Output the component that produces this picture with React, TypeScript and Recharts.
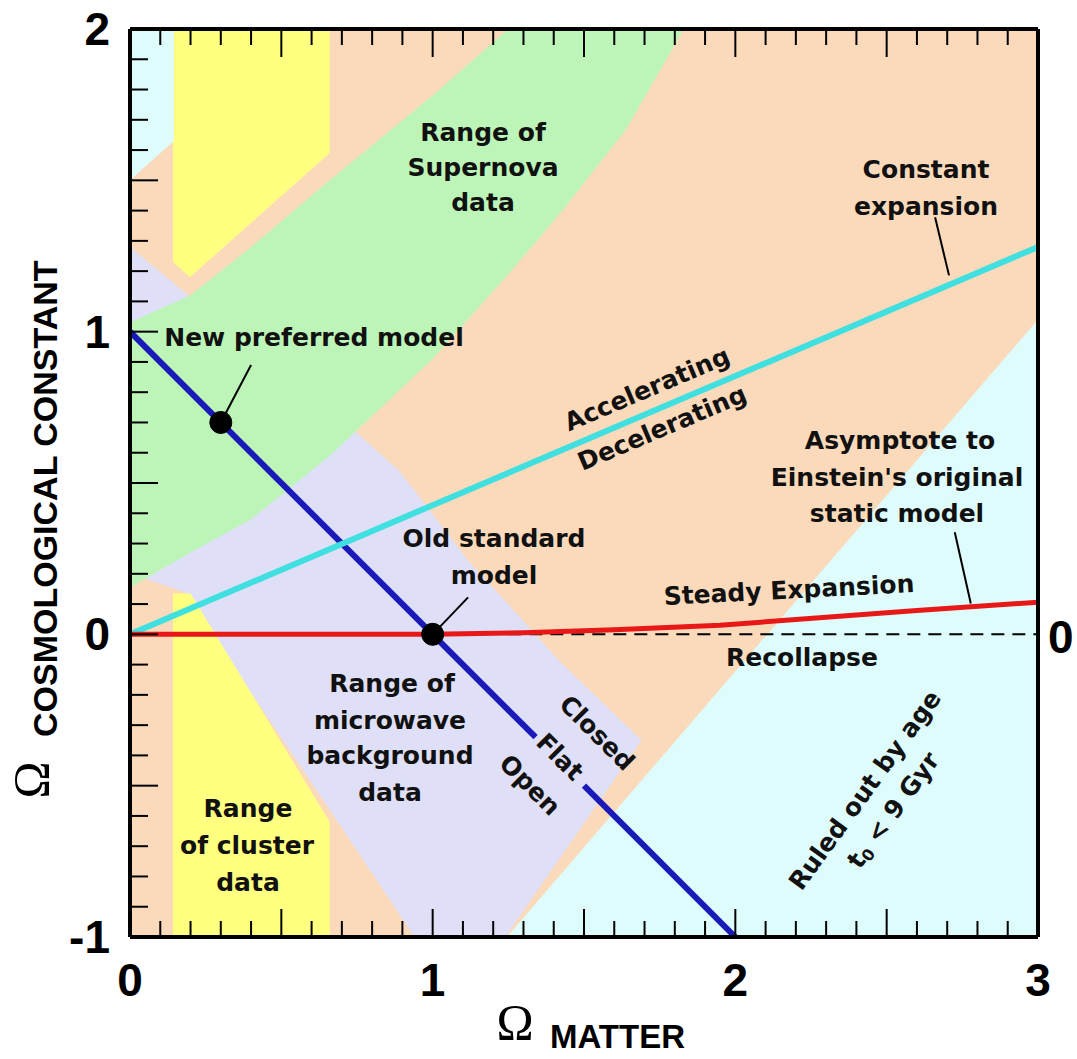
import { Area, CartesianGrid, ComposedChart, Line, XAxis, YAxis } from 'recharts'

// axis ticks (every 0.1, major every 0.5)
const xTicks = [0, 0.1, 0.2, 0.3, 0.4, 0.5, 0.6, 0.7, 0.8, 0.9, 1, 1.1, 1.2, 1.3, 1.4, 1.5, 1.6, 1.7, 1.8, 1.9, 2, 2.1, 2.2, 2.3, 2.4, 2.5, 2.6, 2.7, 2.8, 2.9, 3]
const yTicks = [-1, -0.9, -0.8, -0.7, -0.6, -0.5, -0.4, -0.3, -0.2, -0.1, 0, 0.1, 0.2, 0.3, 0.4, 0.5, 0.6, 0.7, 0.8, 0.9, 1, 1.1, 1.2, 1.3, 1.4, 1.5, 1.6, 1.7, 1.8, 1.9, 2]
const xLabels = [0, 1, 2, 3]
const yLabels = [-1, 0, 1, 2]

// supernova band (green)
const snX = [0, 0.2, 0.4, 0.66, 1.0, 1.25, 1.42, 1.64, 1.83]
const snLo = [0.155, 0.27, 0.38, 0.59, 0.91, 1.19, 1.39, 1.67, 2.0]
const snHi = [1.03, 1.12, 1.28, 1.5, 1.78, 2.0, 2.0, 2.0, 2.0]

// microwave background band (lavender)
const cmbX = [0, 0.18, 0.27, 0.6, 0.7, 0.89, 0.94, 1.12, 1.24, 1.42, 1.69]
const cmbLo = [0.2, 0.14, 0, -0.49, -0.64, -0.925, -1, -1, -1, -0.74, -0.35]
const cmbHi = [1.28, 1.13, 1.06, 0.79, 0.71, 0.54, 0.475, 0.24, 0.11, -0.09, -0.35]

// cluster data (yellow), upper and lower pieces
const clUpX = [0.142, 0.198, 0.66]
const clUpLo = [1.23, 1.18, 1.59]
const clUpHi = [2, 2, 2]
const clDnX = [0.142, 0.2, 0.66]
const clDnLo = [-1, -1, -1]
const clDnHi = [0.135, 0.135, -0.62]

// pale cyan regions
const cornerX = [0, 0.145]
const cornerLo = [1.5, 1.63]
const cornerHi = [2, 2]
const ageX = [1.245, 3]
const ageLo = [-1, -1]
const ageHi = [-1, 1.04]

// model lines
const flatAX = [0, 1.34]
const flatAY = [1, -0.34]
const flatBX = [1.5, 2]
const flatBY = [-0.5, -1]
const accelX = [0, 3]
const accelY = [0, 1.28]
const steadyX = [0, 1, 1.3, 1.6, 1.95, 2.6, 3]
const steadyY = [0, 0, 0.005, 0.015, 0.03, 0.079, 0.106]
const recolX = [1.25, 3]
const recolY = [0, 0]

// pointer lines and model dots
const ptrNewX = [0.3, 0.4]
const ptrNewY = [0.7, 0.89]
const ptrOldX = [1, 1.117]
const ptrOldY = [0, 0.122]
const ptrConstX = [2.66, 2.706]
const ptrConstY = [1.378, 1.186]
const ptrAsymX = [2.725, 2.778]
const ptrAsymY = [0.337, 0.102]
const newModel = { x: 0.3, y: 0.7 }
const oldModel = { x: 1, y: 0 }

const band = (xs: number[], lo: number[], hi: number[]) =>
  xs.map((x, i) => ({ x, range: [lo[i], hi[i]] }))
const pts = (xs: number[], ys: number[]) => xs.map((x, i) => ({ x, y: ys[i] }))

const isMajor = (v: number) => Math.abs(v * 2 - Math.round(v * 2)) < 1e-6
const isInt = (v: number) => Math.abs(v - Math.round(v)) < 1e-6

const tickFont = { fontFamily: '"Liberation Sans", Arial, sans-serif', fontWeight: 700, fontSize: 46 }

function BottomTick(props: any) {
  const { x, y, payload } = props
  const v = payload.value
  const len = isMajor(v) ? 28 : 16
  return (
    <g>
      <line x1={x} x2={x} y1={y} y2={y - len} stroke="#000" strokeWidth={2} />
      {isInt(v) && xLabels.includes(Math.round(v)) && (
        <text x={x} y={y + 43} textAnchor="middle" dominantBaseline="central" fill="#000" style={tickFont}>
          {Math.round(v)}
        </text>
      )}
    </g>
  )
}

function TopTick(props: any) {
  const { x, y, payload } = props
  const len = isMajor(payload.value) ? 28 : 16
  return <line x1={x} x2={x} y1={y} y2={y + len} stroke="#000" strokeWidth={2} />
}

function LeftTick(props: any) {
  const { x, y, payload } = props
  const v = payload.value
  const len = isMajor(v) ? 28 : 18
  return (
    <g>
      <line x1={x} x2={x + len} y1={y} y2={y} stroke="#000" strokeWidth={2} />
      {isInt(v) && yLabels.includes(Math.round(v)) && (
        <text x={x - 20} y={y} textAnchor="end" dominantBaseline="central" fill="#000" style={tickFont}>
          {Math.round(v)}
        </text>
      )}
    </g>
  )
}

function RightTick(props: any) {
  const { x, y, payload } = props
  return (
    <text x={x + 10} y={y + 3} textAnchor="start" dominantBaseline="central" fill="#000" style={tickFont}>
      {payload.value}
    </text>
  )
}

const noteStyle = { fontFamily: '"DejaVu Sans", sans-serif', fontWeight: 700, fontSize: 25, fill: '#111' }

function Note({ x, y, rot = 0, children }: { x: number; y: number; rot?: number; children: any }) {
  return (
    <text
      x={x}
      y={y}
      textAnchor="middle"
      dominantBaseline="central"
      transform={rot ? `rotate(${rot} ${x} ${y})` : undefined}
      style={noteStyle}
    >
      {children}
    </text>
  )
}

function Annotations() {
  return (
    <svg width={1077} height={1059} style={{ position: 'absolute', left: 0, top: 0, pointerEvents: 'none' }}>
      <Note x={483} y={132}>Range of</Note>
      <Note x={483} y={167}>Supernova</Note>
      <Note x={483} y={202}>data</Note>

      <Note x={926} y={169}>Constant</Note>
      <Note x={926} y={206}>expansion</Note>

      <Note x={314} y={337}>New preferred model</Note>

      <Note x={647} y={389} rot={-23}>Accelerating</Note>
      <Note x={662} y={428} rot={-23}>Decelerating</Note>

      <Note x={494} y={538}>Old standard</Note>
      <Note x={494} y={575}>model</Note>

      <Note x={789} y={590} rot={-3}>Steady Expansion</Note>
      <Note x={802} y={657}>Recollapse</Note>

      <Note x={900} y={440}>Asymptote to</Note>
      <Note x={897} y={477}>Einstein's original</Note>
      <Note x={897} y={513}>static model</Note>

      <Note x={392} y={683}>Range of</Note>
      <Note x={390} y={720}>microwave</Note>
      <Note x={390} y={755}>background</Note>
      <Note x={390} y={792}>data</Note>

      <Note x={248} y={808}>Range</Note>
      <Note x={247} y={845}>of cluster</Note>
      <Note x={248} y={882}>data</Note>

      <Note x={597} y={733} rot={45}>Closed</Note>
      <Note x={560} y={757} rot={45}>Flat</Note>
      <Note x={530} y={785} rot={45}>Open</Note>

      <Note x={865} y={790} rot={-54}>Ruled out by age</Note>
      <Note x={893} y={810} rot={-54}>
        t<tspan fontSize={16} dy={6}>0</tspan>
        <tspan dy={-6}> {'<'} 9 Gyr</tspan>
      </Note>

      {/* axis titles */}
      <text x={515} y={1022} textAnchor="middle" dominantBaseline="central"
        style={{ fontFamily: '"Liberation Serif", serif', fontSize: 50 }}>Ω</text>
      <text x={550} y={1036} textAnchor="start" dominantBaseline="central"
        style={{ fontFamily: '"Liberation Sans", Arial, sans-serif', fontWeight: 700, fontSize: 33 }}>MATTER</text>

      <text x={31} y={780} textAnchor="middle" dominantBaseline="central" transform="rotate(-90 31 780)"
        style={{ fontFamily: '"Liberation Serif", serif', fontSize: 50 }}>Ω</text>
      <text x={45} y={737} textAnchor="start" dominantBaseline="central" transform="rotate(-90 45 737)"
        style={{ fontFamily: '"Liberation Sans", Arial, sans-serif', fontWeight: 700, fontSize: 34 }}>
        COSMOLOGICAL CONSTANT
      </text>
    </svg>
  )
}

const areaProps = {
  type: 'linear' as const,
  dataKey: 'range',
  stroke: 'none',
  fillOpacity: 1,
  dot: false,
  activeDot: false,
  isAnimationActive: false,
}

const lineProps = {
  type: 'linear' as const,
  dataKey: 'y',
  dot: false,
  activeDot: false,
  isAnimationActive: false,
}

export default function App() {
  return (
    <div style={{ position: 'absolute', left: 0, top: 0, width: 1077, height: 1059, background: '#fff' }}>
      <ComposedChart width={1077} height={1059} margin={{ top: 20, right: 19, bottom: 92, left: 100 }}>
        <CartesianGrid horizontal={false} vertical={false} fill="#fbdabb" />

        <Area {...areaProps} data={band(cmbX, cmbLo, cmbHi)} fill="#dfdff7" />
        <Area {...areaProps} data={band(snX, snLo, snHi)} fill="#bdf5b8" />
        <Area {...areaProps} data={band(clUpX, clUpLo, clUpHi)} fill="#ffff80" />
        <Area {...areaProps} data={band(clDnX, clDnLo, clDnHi)} fill="#ffff80" />
        <Area {...areaProps} data={band(cornerX, cornerLo, cornerHi)} fill="#dffcfc" />
        <Area {...areaProps} data={band(ageX, ageLo, ageHi)} fill="#dffcfc" />

        <Line {...lineProps} data={pts(recolX, recolY)} stroke="#000" strokeWidth={2} strokeDasharray="13 8" />
        <Line {...lineProps} data={pts(flatAX, flatAY)} stroke="#1a1ab8" strokeWidth={6} />
        <Line {...lineProps} data={pts(flatBX, flatBY)} stroke="#1a1ab8" strokeWidth={6} />
        <Line {...lineProps} data={pts(accelX, accelY)} stroke="#40e0e0" strokeWidth={6} />
        <Line {...lineProps} data={pts(steadyX, steadyY)} stroke="#e81818" strokeWidth={5} />

        <Line {...lineProps} data={pts(ptrNewX, ptrNewY)} stroke="#000" strokeWidth={2} />
        <Line {...lineProps} data={pts(ptrOldX, ptrOldY)} stroke="#000" strokeWidth={2} />
        <Line {...lineProps} data={pts(ptrConstX, ptrConstY)} stroke="#000" strokeWidth={2} />
        <Line {...lineProps} data={pts(ptrAsymX, ptrAsymY)} stroke="#000" strokeWidth={2} />

        <Line {...lineProps} data={[newModel]} stroke="none" dot={{ r: 11, fill: '#000', stroke: '#000' }} />
        <Line {...lineProps} data={[oldModel]} stroke="none" dot={{ r: 11, fill: '#000', stroke: '#000' }} />

        <XAxis
          dataKey="x"
          type="number"
          domain={[0, 3]}
          allowDataOverflow
          ticks={xTicks}
          interval={0}
          height={30}
          tickSize={0}
          tickMargin={0}
          tickLine={false}
          tick={<BottomTick />}
          axisLine={{ stroke: '#000', strokeWidth: 4 }}
        />
        <XAxis
          xAxisId="top"
          orientation="top"
          dataKey="x"
          type="number"
          domain={[0, 3]}
          allowDataOverflow
          ticks={xTicks}
          interval={0}
          height={9}
          tickSize={0}
          tickMargin={0}
          tickLine={false}
          tick={<TopTick />}
          axisLine={{ stroke: '#000', strokeWidth: 4 }}
        />
        <YAxis
          type="number"
          domain={[-1, 2]}
          allowDataOverflow
          ticks={yTicks}
          interval={0}
          width={30}
          tickSize={0}
          tickMargin={0}
          tickLine={false}
          tick={<LeftTick />}
          axisLine={{ stroke: '#000', strokeWidth: 4 }}
        />
        <YAxis
          yAxisId="right"
          orientation="right"
          type="number"
          domain={[-1, 2]}
          allowDataOverflow
          ticks={[0]}
          interval={0}
          width={20}
          tickSize={0}
          tickMargin={0}
          tickLine={false}
          tick={<RightTick />}
          axisLine={{ stroke: '#000', strokeWidth: 4 }}
        />
      </ComposedChart>
      <Annotations />
    </div>
  )
}
